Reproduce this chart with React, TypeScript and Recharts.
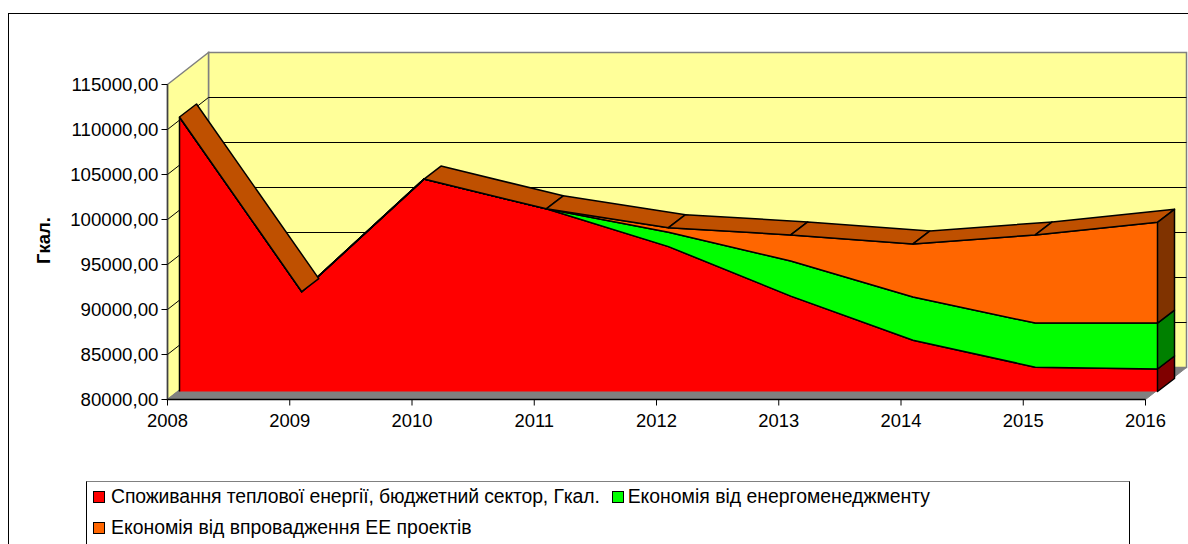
import React from 'react';
import { ComposedChart, Area, XAxis, YAxis, ReferenceLine, ReferenceArea, Legend } from 'recharts';

const years = [2008, 2009, 2010, 2011, 2012, 2013, 2014, 2015, 2016];
const consumption = [110500, 91100, 103600, 100300, 96100, 90600, 85700, 82700, 82500];
const energyMgmt = [0, 0, 0, 0, 1600, 3900, 4800, 4900, 5100];
const eeProjects = [0, 0, 0, 0, 500, 2900, 5900, 9800, 11200];
const valueTicks = [80000, 85000, 90000, 95000, 100000, 105000, 110000, 115000];
const seriesNames = [
  'Споживання теплової енергії, бюджетний сектор, Гкал.',
  'Економія від енергоменеджменту',
  'Економія від впровадження ЕЕ проектів',
];

const rows = years.map((year, i) => ({
  year,
  red: consumption[i],
  greenTop: consumption[i] + energyMgmt[i],
  orangeTop: consumption[i] + energyMgmt[i] + eeProjects[i],
}));

// Layout of the pseudo-3D box, in pixels
const PLOT_LEFT = 167.5;
const PLOT_RIGHT = 1186.5;
const PLOT_TOP = 52.5;
const PLOT_BOTTOM = 399.5;
const PX_PER_YEAR = 978 / 8;
const PX_PER_VALUE = 315 / 35000;
const WALL_DX = 41;
const WALL_DY = 32;
const SERIES_DX = 12;
const SERIES_DY = 8;
const DEPTH_DX = 17;
const DEPTH_DY = 13;

const plotW = PLOT_RIGHT - PLOT_LEFT;
const plotH = PLOT_BOTTOM - PLOT_TOP;
const spanYears = plotW / PX_PER_YEAR;
const spanValues = plotH / PX_PER_VALUE;
const wallYears = WALL_DX / PX_PER_YEAR;
const wallValues = WALL_DY / PX_PER_VALUE;
const shiftYears = SERIES_DX / PX_PER_YEAR;
const shiftValues = SERIES_DY / PX_PER_VALUE;

const FONT = '"Liberation Sans", Arial, sans-serif';
const WALL = '#FFFF99';
const EDGE = '#808080';
const INK = '#000000';
const Z_WALL = 10;
const Z_GRID = 50;

const poly = (pts: number[][]) => pts.map((p) => p.join(',')).join(' ');

// Draws the extruded faces of one band, from the points the Area computed
const makeDot = (faceFill: string, low: (d: any) => number, high: (d: any) => number, hasTop: boolean, leftEdge: boolean) => (props: any) => {
  const { points, index, cx, cy, payload } = props;
  const next = points && points[index + 1];
  const last = index === (points ? points.length : 0) - 1;
  const h = (high(payload) - low(payload)) * PX_PER_VALUE;
  // a top facet that rises more steeply than the depth direction faces away from the viewer
  const facing = next && (next.y - cy) / (next.x - cx) > -DEPTH_DY / DEPTH_DX;
  return (
    <g key={`f${index}`}>
      {hasTop && facing && (
        <polygon
          points={poly([[cx, cy], [next.x, next.y], [next.x + DEPTH_DX, next.y - DEPTH_DY], [cx + DEPTH_DX, cy - DEPTH_DY]])}
          fill="#BF5000"
          stroke={INK}
          strokeWidth={1.5}
          strokeLinejoin="round"
        />
      )}
      {last && (
        <polygon
          points={poly([[cx, cy], [cx + DEPTH_DX, cy - DEPTH_DY], [cx + DEPTH_DX, cy + h - DEPTH_DY], [cx, cy + h]])}
          fill={faceFill}
          stroke={INK}
          strokeWidth={1.5}
          strokeLinejoin="round"
        />
      )}
      {leftEdge && index === 0 && <line x1={cx} y1={cy} x2={cx} y2={cy + h} stroke={INK} strokeWidth={1.5} />}
    </g>
  );
};

const LeftWall = (p: any) => (
  <polygon
    points={poly([[p.x, p.y + WALL_DY], [p.x + p.width, p.y], [p.x + p.width, p.y + p.height - WALL_DY], [p.x, p.y + p.height]])}
    fill={WALL}
    stroke={EDGE}
    strokeWidth={1.5}
  />
);
const Floor = (p: any) => (
  <polygon
    points={poly([[p.x, p.y + p.height], [p.x + WALL_DX, p.y], [p.x + p.width, p.y], [p.x + p.width - WALL_DX, p.y + p.height]])}
    fill={EDGE}
    stroke={EDGE}
  />
);

const LEGEND_SPACING = [-0.12, 0, 0];
const LEGEND_GAP = [6, 4, 6];

const LegendBox = ({ payload }: any) => {
  const items = [...(payload || [])].sort((a: any, b: any) => seriesNames.indexOf(a.value) - seriesNames.indexOf(b.value));
  return (
    <div
      style={{
        boxSizing: 'border-box',
        width: '100%',
        height: '100%',
        border: '1px solid #000',
        borderTopColor: EDGE,
        background: '#fff',
        padding: '0 6px',
        display: 'flex',
        flexWrap: 'wrap',
        alignContent: 'flex-start',
        fontFamily: FONT,
        fontSize: 19.4,
        color: '#000',
        lineHeight: '31px',
      }}
    >
      {items.map((item: any, i: number) => (
        <span
          key={item.value}
          style={{
            display: 'inline-flex',
            alignItems: 'center',
            marginRight: 12,
            whiteSpace: 'nowrap',
            height: 31,
            position: 'relative',
            top: -1,
            letterSpacing: LEGEND_SPACING[i],
          }}
        >
          <span style={{ boxSizing: 'border-box', width: 12, height: 12, background: item.payload?.fill, border: '1px solid #000', marginRight: LEGEND_GAP[i] }} />
          {item.value}
        </span>
      ))}
    </div>
  );
};

export default function App() {
  return (
    <div style={{ position: 'absolute', left: 0, top: 0, width: 1188, height: 544, overflow: 'hidden', background: '#fff' }}>
      <div style={{ position: 'absolute', left: 8, top: 13, width: 1400, height: 800, border: '1px solid #000' }} />
      <ComposedChart
        width={1188}
        height={544}
        data={rows}
        style={{ position: 'absolute', left: 0, top: 0 }}
        margin={{ left: PLOT_LEFT - 130, right: 1188 - PLOT_RIGHT, top: PLOT_TOP, bottom: 544 - PLOT_BOTTOM - 34 }}
      >
        <XAxis
          xAxisId="front"
          dataKey="year"
          type="number"
          allowDataOverflow
          domain={[2008, 2008 + spanYears]}
          ticks={years}
          tickFormatter={(v: number) => String(v)}
          axisLine={false}
          tickLine={{ stroke: INK }}
          tickSize={6}
          tickMargin={8}
          height={34}
          interval={0}
          tick={{ fill: INK, fontFamily: FONT, fontSize: 18.4 }}
        />
        <YAxis
          yAxisId="front"
          type="number"
          allowDataOverflow
          domain={[80000, 80000 + spanValues]}
          ticks={valueTicks}
          tickFormatter={(v: number) => `${v},00`}
          axisLine={false}
          tickLine={{ stroke: INK }}
          tickSize={6}
          tickMargin={3}
          width={130}
          interval={0}
          tick={{ fill: INK, fontFamily: FONT, fontSize: 18.7 }}
          label={{ value: 'Гкал.', angle: -90, position: 'insideLeft', offset: 0, dx: 6, dy: 38, style: { fontFamily: FONT, fontSize: 18.5, fontWeight: 'bold', fill: INK } }}
        />
        <XAxis
          xAxisId="series"
          dataKey="year"
          type="number"
          hide
          domain={[2008 - shiftYears, 2008 - shiftYears + spanYears]}
        />
        <YAxis
          yAxisId="series"
          type="number"
          hide
          domain={[80000 - shiftValues, 80000 - shiftValues + spanValues]}
        />

        <ReferenceArea
          xAxisId="front"
          yAxisId="front"
          zIndex={Z_WALL}
          x1={2008 + wallYears}
          x2={2008 + spanYears}
          y1={80000 + wallValues}
          y2={115000 + wallValues}
          fill={WALL}
          fillOpacity={1}
          stroke={EDGE}
          strokeWidth={1.5}
          ifOverflow="visible"
        />
        <ReferenceArea
          xAxisId="front"
          yAxisId="front"
          zIndex={Z_WALL}
          x1={2008}
          x2={2008 + wallYears}
          y1={80000}
          y2={115000 + wallValues}
          shape={LeftWall}
          ifOverflow="visible"
        />
        <ReferenceArea
          xAxisId="front"
          yAxisId="front"
          zIndex={Z_WALL}
          x1={2008}
          x2={2016 + wallYears}
          y1={80000}
          y2={80000 + wallValues}
          shape={Floor}
          ifOverflow="visible"
        />
        {valueTicks.slice(1, -1).map((v) => (
          <ReferenceLine
            key={v}
            xAxisId="front"
            yAxisId="front"
            zIndex={Z_GRID}
            ifOverflow="visible"
            stroke={INK}
            strokeWidth={1}
            segment={[{ x: 2008, y: v }, { x: 2008 + wallYears, y: v + wallValues }]}
          />
        ))}
        {valueTicks.slice(1, -1).map((v) => (
          <ReferenceLine
            key={`b${v}`}
            xAxisId="front"
            yAxisId="front"
            zIndex={Z_GRID}
            ifOverflow="visible"
            stroke={INK}
            strokeWidth={1}
            segment={[{ x: 2008 + wallYears, y: v + wallValues }, { x: 2008 + spanYears, y: v + wallValues }]}
          />
        ))}
        <ReferenceLine
          xAxisId="front"
          yAxisId="front"
          zIndex={Z_GRID}
          ifOverflow="visible"
          stroke="#404040"
          strokeWidth={1.5}
          segment={[{ x: 2008, y: 80000 }, { x: 2008, y: 115000 }]}
        />
        <ReferenceLine
          xAxisId="front"
          yAxisId="front"
          zIndex={Z_GRID}
          ifOverflow="visible"
          stroke={INK}
          strokeWidth={1.5}
          segment={[{ x: 2008, y: 80000 }, { x: 2016, y: 80000 }]}
        />

        <Area
          xAxisId="series"
          yAxisId="series"
          name={seriesNames[0]}
          dataKey="red"
          baseValue={80000}
          type="linear"
          fill="#FF0000"
          fillOpacity={1}
          stroke={INK}
          strokeWidth={1.5}
          isAnimationActive={false}
          activeDot={false}
          dot={makeDot('#800000', () => 80000, (d) => d.red, false, true)}
        />
        <Area
          xAxisId="series"
          yAxisId="series"
          name={seriesNames[1]}
          dataKey={(d: any) => [d.red, d.greenTop]}
          type="linear"
          fill="#00FF00"
          fillOpacity={1}
          stroke={INK}
          strokeWidth={1.5}
          isAnimationActive={false}
          activeDot={false}
          dot={makeDot('#008000', (d) => d.red, (d) => d.greenTop, false, false)}
        />
        <Area
          xAxisId="series"
          yAxisId="series"
          name={seriesNames[2]}
          dataKey={(d: any) => [d.greenTop, d.orangeTop]}
          type="linear"
          fill="#FF6600"
          fillOpacity={1}
          stroke={INK}
          strokeWidth={1.5}
          isAnimationActive={false}
          activeDot={false}
          dot={makeDot('#803300', (d) => d.greenTop, (d) => d.orangeTop, true, false)}
        />
        <Legend
          layout="horizontal"
          verticalAlign="middle"
          content={LegendBox}
          wrapperStyle={{ left: 86, top: 481, width: 1044, height: 100 }}
        />
      </ComposedChart>
    </div>
  );
}
